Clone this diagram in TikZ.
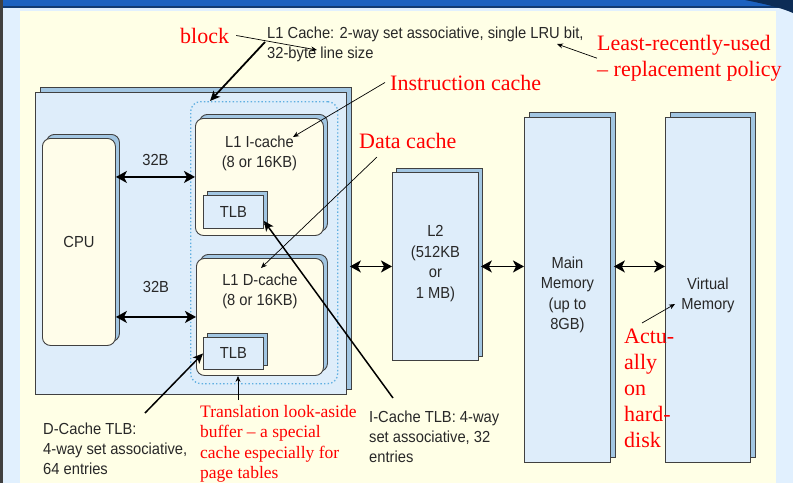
\documentclass[tikz,border=0pt]{standalone}
\usepackage{fontspec}
\setmainfont{Liberation Serif}
\setsansfont[FakeStretch=0.92]{Liberation Sans}
\usetikzlibrary{arrows.meta,shadows,positioning}

\definecolor{paper}{RGB}{255,255,230}
\definecolor{slide}{RGB}{225,240,254}
\definecolor{barblue}{RGB}{28,98,192}
\definecolor{boxblue}{RGB}{222,237,250}
\definecolor{sideblue}{RGB}{162,198,226}
\definecolor{boxcream}{RGB}{255,253,234}
\definecolor{edge}{RGB}{64,64,64}
\definecolor{zoneblue}{RGB}{95,175,225}
\definecolor{labelgray}{RGB}{40,40,40}
\definecolor{notered}{RGB}{255,0,0}

\tikzset{
  slab/.style={draw=edge, fill=boxblue, line width=0.9pt, inner sep=0pt, anchor=north west,
    font=\sffamily\fontsize{16}{20}\selectfont, text=labelgray, align=center,
    copy shadow={shadow xshift=#1, shadow yshift=#1, opacity=1, fill=sideblue, draw=edge, line width=0.9pt}},
  slab/.default=4pt,
  softslab/.style={slab, fill=boxcream, rounded corners=8pt},
  zone/.style={draw=zoneblue, line width=1.3pt, dash pattern=on 1.4pt off 2.2pt,
    rounded corners=10pt, anchor=north west, inner sep=0pt},
  boxtext/.style={font=\sffamily\fontsize{16}{20.5}\selectfont, text=labelgray, align=center, inner sep=0pt},
  graynote/.style={font=\sffamily\fontsize{16}{20}\selectfont, text=labelgray, align=left,
    inner sep=0pt, anchor=north west},
  rednote/.style={font=\fontsize{22}{26}\selectfont, text=notered, align=left,
    inner sep=0pt, anchor=north west},
  biarrow/.style={line width=1.7pt,
    {Stealth[length=11pt,width=12pt,inset=3pt]}-{Stealth[length=11pt,width=12pt,inset=3pt]}},
  boldptr/.style={line width=1.5pt, -{Stealth[length=10pt,width=9pt,inset=2.5pt]}},
  thinptr/.style={line width=0.7pt, -{Stealth[length=6pt,width=5pt]}},
}

\begin{document}
\begin{tikzpicture}[x=1pt, y=-1pt]
  \useasboundingbox (0,0) rectangle (793,483);

  % slide background
  \fill[slide] (0,0) rectangle (793,483);
  \fill[barblue] (0,0) rectangle (793,7);
  \fill[barblue!60!black] (0,6) rectangle (793,7.5);
  \fill[barblue!45!black] (745,0) .. controls (765,4) and (782,8) .. (793,13) -- (793,0) -- cycle;
  \fill[black!75] (0,0) rectangle (2.5,483);
  \fill[paper] (20,11) rectangle (776,483);

  % L1 block
  \node[slab=5pt, minimum width=311pt, minimum height=302pt] (l1box) at (35,92) {};
  \node[zone, minimum width=147pt, minimum height=282pt] (l1zone) at (190,101) {};

  \node[softslab, minimum width=128pt, minimum height=117pt] (icache) at (195,118) {};
  \node[boxtext, below=17.4pt of icache.north] (icachetext) {L1 I-cache\\(8 or 16KB)};
  \node[slab, minimum width=60pt, minimum height=33pt] (itlb) at (203,195) {TLB};

  \node[softslab, minimum width=127pt, minimum height=117pt] (dcache) at (196,258) {};
  \node[boxtext, below=15.4pt of dcache.north] (dcachetext) {L1 D-cache\\(8 or 16KB)};
  \node[slab, minimum width=60pt, minimum height=32pt] (dtlb) at (203,337) {TLB};

  \node[softslab, minimum width=73pt, minimum height=207pt] (cpu) at (42,138) {CPU};

  % lower levels
  \node[slab, minimum width=86pt, minimum height=188pt] (ltwo) at (392,172) {};
  \node[boxtext, below=53.4pt of ltwo.north] (ltwotext) {L2\\(512KB\\or\\1 MB)};
  \node[slab=5pt, minimum width=86pt, minimum height=345pt] (mainmem) at (524,117) {};
  \node[boxtext, below=139.4pt of mainmem.north] (mainmemtext) {Main\\Memory\\(up to\\8GB)};
  \node[slab=5pt, minimum width=85pt, minimum height=345pt] (virtmem) at (665,117) {};
  \node[boxtext, below=160.4pt of virtmem.north] (virtmemtext) {Virtual\\Memory};

  % buses
  \draw[biarrow] (cpu.east |- icache.west) -- (icache.west)
    node[midway, above=10pt, boxtext] (busup) {32B};
  \draw[biarrow] (cpu.east |- dcache.west) -- (dcache.west)
    node[midway, above=23pt, boxtext] (buslow) {32B};
  \draw[biarrow] ([xshift=3pt]l1box.east |- ltwo.west) -- (ltwo.west);
  \draw[biarrow] ([xshift=2pt]ltwo.east) -- (ltwo.east -| mainmem.west);
  \draw[biarrow] ([xshift=3pt]mainmem.east |- ltwo.east) -- (virtmem.west |- ltwo.east);

  % notes
  \node[graynote] (cachenote) at (267,26.4) {L1 Cache: 2-way set associative, single LRU bit,\\32-byte line size};
  \node[rednote, anchor=base west] (blocknote) at (180,43) {block};
  \node[rednote] (lrunote) at (597,35) {Least-recently-used\\-- replacement policy};
  \node[rednote, anchor=base west] (instrnote) at (390,90) {Instruction cache};
  \node[rednote, anchor=base west] (datanote) at (359,148) {Data cache};
  \node[rednote, font=\fontsize{17.5}{20.5}\selectfont] (tlbnote) at (200,405)
    {Translation look-aside\\buffer -- a special\\cache especially for\\page tables};
  \node[graynote] (dtlbnote) at (43,422.4) {D-Cache TLB:\\4-way set associative,\\64 entries};
  \node[graynote] (itlbnote) at (369,410.4) {I-Cache TLB: 4-way\\set associative, 32\\entries};
  \node[rednote] (disknote) at (624,328.4) {Actu-\\ally\\on\\hard-\\disk};

  % pointer ends
  \coordinate (cachetail) at (265,42);
  \coordinate (linesize) at (317,50);
  \coordinate (lrubit) at (557,44);
  \coordinate (icachetip) at (293,137);
  \coordinate (datatail) at (377,157);
  \coordinate (dcachetip) at (261,268);
  \coordinate (tlbtail) at (238,400);
  \coordinate (dtlbtail) at (145,413);
  \coordinate (itlbtail) at (393,398);
  \coordinate (disktail) at (642,323);
  \coordinate (disktip) at (675,304);

  \draw[boldptr, line width=1.8pt] (cachetail) -- (210,0 |- l1zone.north);
  \draw[thinptr] ([xshift=7pt]blocknote.east) -- (linesize);
  \draw[thinptr] (lrunote.west) -- (lrubit);
  \draw[thinptr] ([xshift=-5pt]instrnote.west) -- (icachetip);
  \draw[thinptr] (datatail) -- (dcachetip);
  \draw[thinptr, line width=0.9pt] (tlbtail) -- (238,0 |- dcache.south);
  \draw[boldptr] (dtlbtail) -- (dtlb.west);
  \draw[boldptr] (itlbtail) -- ([yshift=8pt]itlb.south east);
  \draw[thinptr] (disktail) -- (disktip);
\end{tikzpicture}
\end{document}
